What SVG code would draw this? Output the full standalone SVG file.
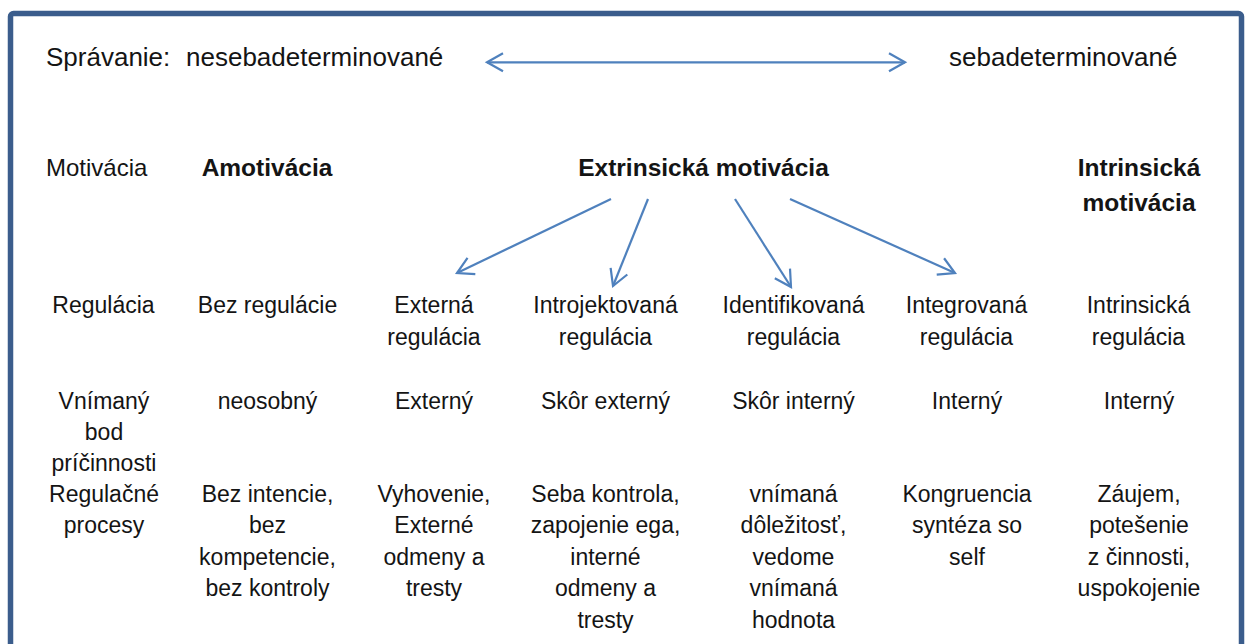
<svg xmlns="http://www.w3.org/2000/svg" width="1249" height="644" viewBox="0 0 1249 644">
<style>
text{font-family:"Liberation Sans",Arial,sans-serif;fill:#141414;}
.t{font-size:26px;}
.m{font-size:24px;}
.b{font-size:24.5px;font-weight:bold;}
.r{font-size:23px;text-anchor:middle;}
.c{text-anchor:middle;}
.ln{stroke:#4F81BD;stroke-width:2.2;fill:none;}
</style>
<defs>
<marker id="ah" markerUnits="userSpaceOnUse" markerWidth="22" markerHeight="24" viewBox="0 0 22 24" refX="19" refY="12" orient="auto-start-reverse">
<path d="M3,3 L19,12 L3,21" fill="none" stroke="#4F81BD" stroke-width="2.2"/>
</marker>
</defs>
<rect x="0" y="0" width="1249" height="644" fill="#ffffff"/>
<rect id="frame" x="10.5" y="13.5" width="1231" height="700" rx="3" fill="none" stroke="#3B5D8C" stroke-width="5.5"/>

<g id="connectors">
<line class="ln" x1="487" y1="62.3" x2="905" y2="62.3" marker-start="url(#ah)" marker-end="url(#ah)"/>
<line class="ln" x1="611" y1="199" x2="457" y2="273" marker-end="url(#ah)"/>
<line class="ln" x1="648" y1="199" x2="613" y2="286" marker-end="url(#ah)"/>
<line class="ln" x1="735" y1="199" x2="791" y2="287" marker-end="url(#ah)"/>
<line class="ln" x1="790" y1="199" x2="955" y2="273" marker-end="url(#ah)"/>
</g>

<g id="spravanie"><text class="t" x="46" y="66">Správanie:</text></g>
<g id="nesebadeterminovane"><text class="t" x="186" y="66">nesebadeterminované</text></g>
<g id="sebadeterminovane"><text class="t" x="949" y="66">sebadeterminované</text></g>

<g id="motivacia"><text class="m" x="46" y="176">Motivácia</text></g>
<g id="amotivacia"><text class="b c" x="267" y="176">Amotivácia</text></g>
<g id="extrinsicka"><text class="b c" x="703.5" y="176">Extrinsická motivácia</text></g>
<g id="intrinsicka"><text class="b c" x="1139" y="176">Intrinsická</text><text class="b c" x="1139" y="211">motivácia</text></g>

<g id="regulacia-label"><text class="r" x="103.5" y="313">Regulácia</text></g>
<g id="bez-regulacie"><text class="r" x="267.5" y="313">Bez regulácie</text></g>
<g id="externa-regulacia"><text class="r" x="434" y="313">Externá</text><text class="r" x="434" y="345">regulácia</text></g>
<g id="introjektovana-regulacia"><text class="r" x="605.5" y="313">Introjektovaná</text><text class="r" x="605.5" y="345">regulácia</text></g>
<g id="identifikovana-regulacia"><text class="r" x="793.5" y="313">Identifikovaná</text><text class="r" x="793.5" y="345">regulácia</text></g>
<g id="integrovana-regulacia"><text class="r" x="966.5" y="313">Integrovaná</text><text class="r" x="966.5" y="345">regulácia</text></g>
<g id="intrinsicka-regulacia"><text class="r" x="1138.5" y="313">Intrinsická</text><text class="r" x="1138.5" y="345">regulácia</text></g>

<g id="bod-label"><text class="r" x="104" y="409">Vnímaný</text><text class="r" x="104" y="440">bod</text><text class="r" x="104" y="471">príčinnosti</text></g>
<g id="neosobny"><text class="r" x="267.5" y="409">neosobný</text></g>
<g id="externy"><text class="r" x="434" y="409">Externý</text></g>
<g id="skor-externy"><text class="r" x="605.5" y="409">Skôr externý</text></g>
<g id="skor-interny"><text class="r" x="793.5" y="409">Skôr interný</text></g>
<g id="interny-1"><text class="r" x="967" y="409">Interný</text></g>
<g id="interny-2"><text class="r" x="1139" y="409">Interný</text></g>

<g id="procesy-label"><text class="r" x="104" y="502">Regulačné</text><text class="r" x="104" y="533">procesy</text></g>
<g id="proc-amotivacia"><text class="r" x="267.5" y="502">Bez intencie,</text><text class="r" x="267.5" y="533">bez</text><text class="r" x="267.5" y="565">kompetencie,</text><text class="r" x="267.5" y="596">bez kontroly</text></g>
<g id="proc-externa"><text class="r" x="434" y="502">Vyhovenie,</text><text class="r" x="434" y="533">Externé</text><text class="r" x="434" y="565">odmeny a</text><text class="r" x="434" y="596">tresty</text></g>
<g id="proc-introjektovana"><text class="r" x="605.5" y="502">Seba kontrola,</text><text class="r" x="605.5" y="533">zapojenie ega,</text><text class="r" x="605.5" y="565">interné</text><text class="r" x="605.5" y="596">odmeny a</text><text class="r" x="605.5" y="628">tresty</text></g>
<g id="proc-identifikovana"><text class="r" x="793.5" y="502">vnímaná</text><text class="r" x="793.5" y="533">dôležitosť,</text><text class="r" x="793.5" y="565">vedome</text><text class="r" x="793.5" y="596">vnímaná</text><text class="r" x="793.5" y="628">hodnota</text></g>
<g id="proc-integrovana"><text class="r" x="967" y="502">Kongruencia</text><text class="r" x="967" y="533">syntéza so</text><text class="r" x="967" y="565">self</text></g>
<g id="proc-intrinsicka"><text class="r" x="1139" y="502">Záujem,</text><text class="r" x="1139" y="533">potešenie</text><text class="r" x="1139" y="565">z činnosti,</text><text class="r" x="1139" y="596">uspokojenie</text></g>
</svg>
